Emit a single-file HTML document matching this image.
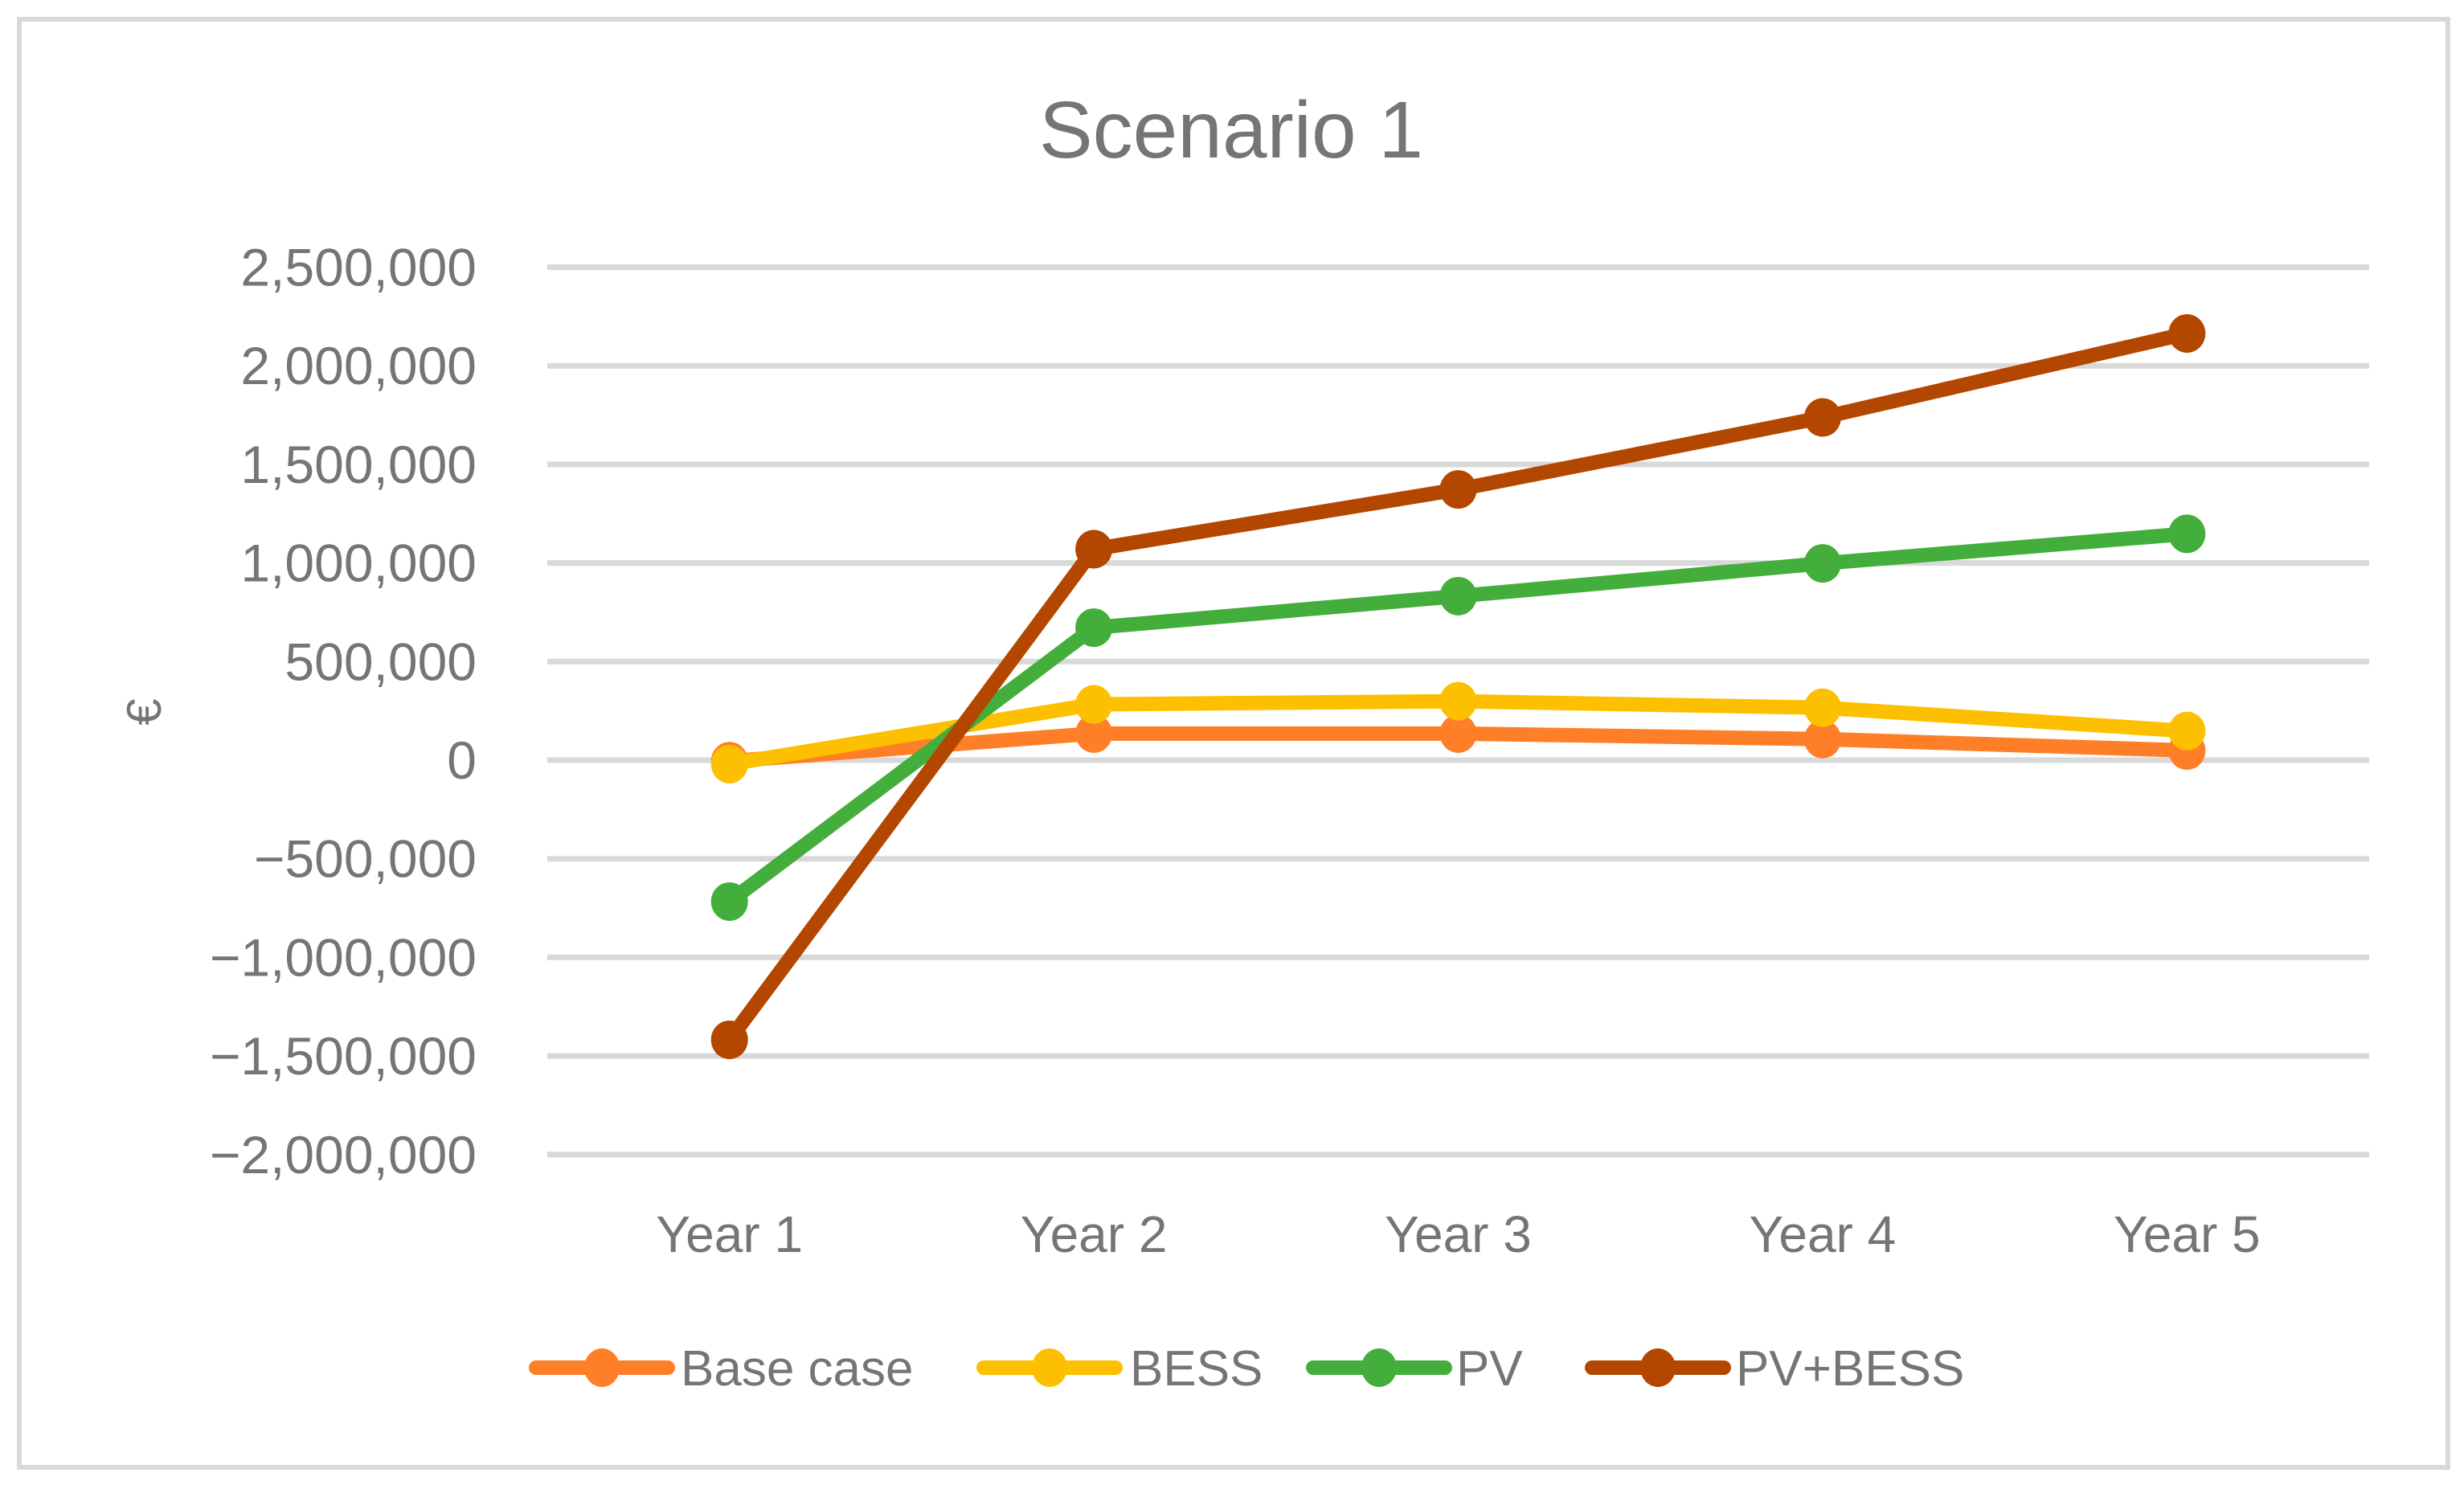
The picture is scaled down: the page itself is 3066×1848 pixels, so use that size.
<!DOCTYPE html>
<html><head><meta charset="utf-8"><style>
html,body{margin:0;padding:0;background:#fff;}
svg{display:block;font-family:"Liberation Sans",sans-serif;}
</style></head><body>
<svg id="chart" width="3066" height="1848" viewBox="0 0 3066 1848">
<rect x="24" y="24" width="3022" height="1802" fill="#fff" stroke="#d9d9d9" stroke-width="6"/>
<text x="1532" y="196" text-anchor="middle" font-size="100" fill="#757575">Scenario 1</text>
<text transform="translate(200,886) rotate(-90)" text-anchor="middle" font-size="60" fill="#757575">€</text>
<g id="grid"></g><g id="ylabels"></g><g id="xlabels"></g><g id="series"></g><g id="legend"></g>
</svg>
<script>
const categories = ["Year 1","Year 2","Year 3","Year 4","Year 5"];
const seriesNames = ["Base case","BESS","PV","PV+BESS"];
const seriesColors = ["#fe7f27","#fdc000","#44ae3c","#b34700"];
const baseCase = [-5000, 135000, 135000, 107000, 49000];
const bess = [-20000, 283000, 299000, 266000, 148000];
const pv = [-717000, 672000, 832000, 998000, 1148000];
const pvBess = [-1418000, 1070000, 1373000, 1738000, 2164000];
const yTicks = [2500000,2000000,1500000,1000000,500000,0,-500000,-1000000,-1500000,-2000000];
const yTickLabels = ["2,500,000","2,000,000","1,500,000","1,000,000","500,000","0","\u2212500,000","\u22121,000,000","\u22121,500,000","\u22122,000,000"];
const allSeries = [baseCase, bess, pv, pvBess];

const NS = "http://www.w3.org/2000/svg";
const plotL = 681, plotR = 2948;
const yZero = 946, pxPerUnit = 122.7/500000;
function yScale(v){ return yZero - v*pxPerUnit; }
function xScale(i){ return plotL + (plotR-plotL)/categories.length*(i+0.5); }
function mk(tag, attrs, parent){ const e=document.createElementNS(NS,tag); for(const k in attrs) e.setAttribute(k,attrs[k]); parent.appendChild(e); return e; }

const grid=document.getElementById('grid'), yl=document.getElementById('ylabels'), xl=document.getElementById('xlabels');
yTicks.forEach((t,i)=>{
  const ln = mk('line',{x1:plotL,x2:plotR,y1:yScale(t),y2:yScale(t),stroke:'#d9d9d9','stroke-width':7},grid);
  
  
  const tx = mk('text',{x:593,y:yScale(t)+23,'text-anchor':'end','font-size':66,fill:'#757575'},yl);
  tx.textContent = yTickLabels[i];
  
  
});
categories.forEach((c,i)=>{
  const tx = mk('text',{x:xScale(i),y:1558,'text-anchor':'middle','font-size':64,fill:'#757575'},xl);
  tx.textContent = c;
  
  
});
const sg=document.getElementById('series');
allSeries.forEach((vals,si)=>{
  const g = mk('g',{},sg);
  
  
  const pts = vals.map((v,i)=>xScale(i)+','+yScale(v)).join(' ');
  const pl = mk('polyline',{points:pts,fill:'none',stroke:seriesColors[si],'stroke-width':18,'stroke-linejoin':'round'},g);
  
  
  vals.forEach((v,i)=>{
    const c = mk('ellipse',{cx:xScale(i),cy:yScale(v),rx:23,ry:24,fill:seriesColors[si]},g);
    
    
  });
});
const lg=document.getElementById('legend');
const legX=[661,1218,1628,1975], legTextX=[847,1406,1812,2160];
seriesNames.forEach((n,si)=>{
  const g = mk('g',{},lg);
  
  
  mk('line',{x1:legX[si]+6,x2:legX[si]+170,y1:1702,y2:1702,stroke:seriesColors[si],'stroke-width':18,'stroke-linecap':'round'},g);
  mk('ellipse',{cx:legX[si]+88,cy:1702,rx:22,ry:24,fill:seriesColors[si]},g);
  const t = mk('text',{x:legTextX[si],y:1724,'font-size':62,fill:'#757575'},g);
  t.textContent = n;
});
</script>
</body></html>
